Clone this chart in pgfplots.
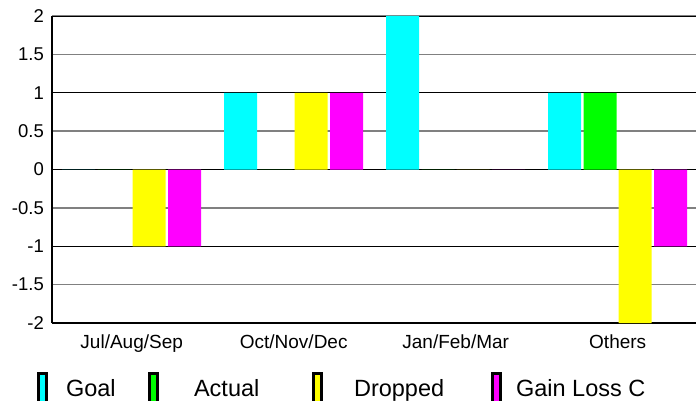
\documentclass[border=0pt]{standalone}
\usepackage{fontspec}
\setmainfont{Liberation Sans}
\usepackage{pgfplots}
\pgfplotsset{compat=1.18}
\definecolor{cgoal}{RGB}{0,255,255}
\definecolor{cactual}{RGB}{0,255,0}
\definecolor{cdropped}{RGB}{255,255,0}
\definecolor{cgain}{RGB}{255,0,255}
\definecolor{gridgray}{RGB}{128,128,128}
\pgfplotsset{
  mylegend/.style={legend image code/.code={\draw[draw=black, line width=2.6pt] (1.3pt,-15pt) rectangle (9.7pt,15pt);}}
}
\begin{document}
\begin{tikzpicture}
\useasboundingbox (0,0) rectangle (696pt,400pt);
\clip (0,0) rectangle (696pt,400pt);
\begin{axis}[
  at={(52pt,77pt)}, anchor=south west, scale only axis,
  x=162pt, y=76.75pt,
  xmin=-0.492, xmax=3.5, ymin=-2, ymax=2,
  axis x line*=bottom, axis y line*=left,
  axis line style={line width=1.2pt, black, -},
  ybar, bar width=33pt,
  xtick={0,1,2,3},
  xticklabels={Jul/Aug/Sep, Oct/Nov/Dec, Jan/Feb/Mar, Others},
  ytick={-2,-1.5,-1,-0.5,0,0.5,1,1.5,2},
  major tick length=0pt,
  ymajorgrids, major grid style={gridgray, line width=1.3pt},
  extra y ticks={-2,-1,0,1,2}, extra y tick labels={},
  extra y tick style={ymajorgrids=true, major grid style={black, line width=0.9pt}},
  /pgf/number format/assume math mode=true,
  yticklabel style={font=\fontsize{18.5}{18.5}\selectfont, inner sep=0pt, xshift=-8pt},
  xticklabel style={font=\fontsize{19}{19}\selectfont, inner sep=0pt, yshift=-12pt},
  legend columns=4,
  legend cell align=left,
  legend style={draw=none, fill=none, at={(axis description cs:-0.0231,-0.1596)}, anchor=north west,
    inner sep=0pt, outer sep=0pt, column sep=0pt, font=\fontsize{23.5}{23.5}\selectfont,
    nodes={inner sep=0pt}},
]
\addplot[fill=cgoal, draw=none, bar shift=-53pt, mylegend] coordinates {(0,0) (1,1) (2,2) (3,1)};
\addlegendentry{\makebox[100pt][l]{\hspace{18pt}Goal}}
\addplot[fill=cactual, draw=none, bar shift=-17.5pt, mylegend] coordinates {(0,0) (1,0) (2,0) (3,1)};
\addlegendentry{\makebox[153pt][l]{\hspace{35pt}Actual}}
\addplot[fill=cdropped, draw=none, bar shift=17.5pt, mylegend] coordinates {(0,-1) (1,1) (2,0) (3,-2)};
\addlegendentry{\makebox[168pt][l]{\hspace{31pt}Dropped}}
\addplot[fill=cgain, draw=none, bar shift=53pt, mylegend] coordinates {(0,-1) (1,1) (2,0) (3,-1)};
\addlegendentry{\hspace{14pt}Gain Loss C}
\end{axis}
\end{tikzpicture}
\end{document}
